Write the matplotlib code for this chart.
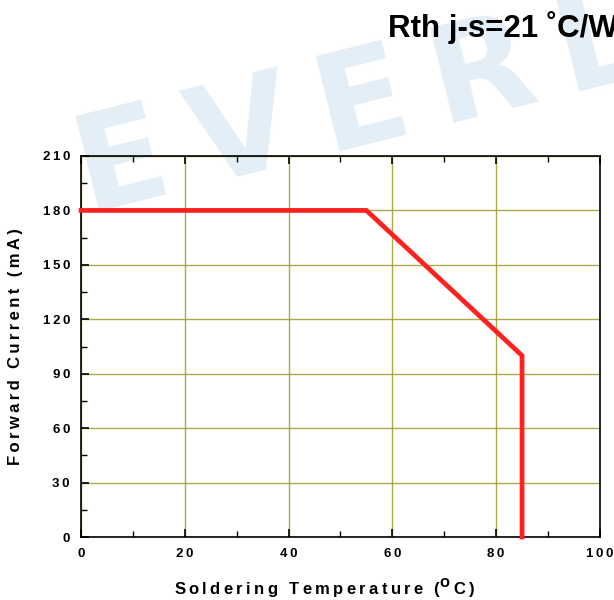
import numpy as np
import matplotlib
matplotlib.use("Agg")
import matplotlib.pyplot as plt
from matplotlib.ticker import MultipleLocator, FuncFormatter

# derating curve: forward current vs soldering temperature
temp = [0, 55, 85, 85]
current = [180, 180, 100, 0]
xticks = [0, 20, 40, 60, 80, 100]
yticks = [0, 30, 60, 90, 120, 150, 180, 210]

plt.rcParams.update({"font.family": ["Liberation Sans", "DejaVu Sans"],
                     "font.weight": "bold"})

TS = "\u2009"  # thin space, used as letter tracking


def spaced(s):
    return TS.join(s)


fig = plt.figure(figsize=(6.14, 6.0), dpi=100)
fig.patch.set_facecolor("white")

# faint watermark behind the chart
fig.text(0.142, 0.643, spaced("EVERLIGHT"), fontsize=96, fontweight="bold",
         color="#e4eef7", family="DejaVu Sans", rotation=14, rotation_mode="anchor",
         ha="left", va="baseline", zorder=0)

ax = fig.add_axes([0.132, 0.105, 0.845, 0.635])
ax.set_facecolor("none")
ax.set_zorder(1)

ax.plot(temp, current, color="#ff2020", lw=3.4, solid_joinstyle="miter", zorder=3,
        clip_on=False)

ax.set_xlim(0, 100); ax.set_ylim(0, 210)
ax.set_xticks(xticks); ax.set_yticks(yticks)
ax.xaxis.set_minor_locator(MultipleLocator(10))
ax.yaxis.set_minor_locator(MultipleLocator(15))
fmt = FuncFormatter(lambda v, p: spaced(str(int(v))))
ax.xaxis.set_major_formatter(fmt); ax.yaxis.set_major_formatter(fmt)
ax.grid(True, which="major", color="#9c9c2c", lw=1.0, alpha=0.85)
ax.tick_params(which="both", direction="in", top=True, right=False, colors="black",
               labelsize=9.5, pad=8)
ax.tick_params(which="major", length=6, width=1.2)
ax.tick_params(which="minor", length=4, width=1.0)
for s in ax.spines.values():
    s.set_linewidth(1.2)
for lab in ax.get_xticklabels() + ax.get_yticklabels():
    lab.set_fontweight("bold")

xlab = spaced("Soldering Temperature (") + "$^{\\mathbf{O}}$" + TS + spaced("C)")
ax.set_xlabel(xlab, fontsize=12, fontweight="bold", labelpad=12)
ax.xaxis.set_label_coords(0.47, -0.105)
ax.set_ylabel(spaced("Forward Current (mA)"), fontsize=12, fontweight="bold", labelpad=14)

fig.text(0.632, 0.939, "Rth j-s=21 \u02daC/W", fontsize=22.5, fontweight="bold",
         ha="left", va="baseline", zorder=2)

fig.savefig("out.png", dpi=100)
